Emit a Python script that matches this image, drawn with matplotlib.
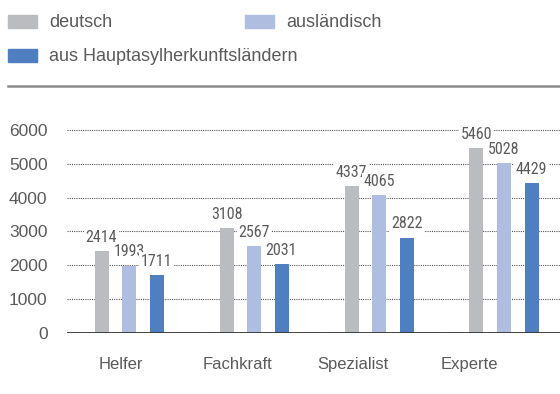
import matplotlib
matplotlib.use("Agg")
import matplotlib.pyplot as plt
from matplotlib.patches import Rectangle
import numpy as np

# Werte je Anforderungsniveau
categories = ["Helfer", "Fachkraft", "Spezialist", "Experte"]
series_names = ["deutsch", "ausländisch", "aus Hauptasylherkunftsländern"]
deutsch = [2414, 3108, 4337, 5460]
auslaendisch = [1993, 2567, 4065, 5028]
asyl = [1711, 2031, 2822, 4429]
yticks = [0, 1000, 2000, 3000, 4000, 5000, 6000]

colors = ["#bbbcc0", "#aebde0", "#4f7fc0"]
text_col = "#5a5a5a"

plt.rcParams["font.family"] = ["Liberation Sans", "DejaVu Sans"]

fig = plt.figure(figsize=(5.6, 3.94), dpi=100)
ax = fig.add_axes([67 / 560, 61 / 394, 493 / 560, (394 - 61 - 123.2) / 394])

x = np.arange(len(categories))
width = 0.112
step = 0.22
for k, (vals, col) in enumerate(zip([deutsch, auslaendisch, asyl], colors)):
    pos = x + (k - 1) * step
    ax.bar(pos, vals, width=width, color=col, zorder=3)
    for px, v in zip(pos, vals):
        ax.annotate(str(v), (px, v), xytext=(0, 4.5), textcoords="offset points",
                    ha="center", va="bottom", fontsize=11.5, color=text_col,
                    family=["Roboto Condensed", "Liberation Sans Narrow", "Roboto"],
                    fontstretch="condensed", zorder=2,
                    bbox=dict(boxstyle="square,pad=0.1", fc="white", ec="none"))

ax.set_xlim(-0.496, 3.448)
ax.set_ylim(0, 6200)
ax.set_yticks(yticks)
ax.yaxis.grid(True, linestyle=(0, (1, 1)), color="#555555", linewidth=0.8, zorder=0)
ax.axhline(0, color="#333333", linewidth=2, zorder=5)

# Beschriftungen der Kategorien sitzen etwas links von den Gruppen
label_pos = x * 0.928 - 0.064
ax.set_xticks(label_pos)
ax.set_xticklabels(categories)
ax.tick_params(axis="x", length=0, pad=17, labelsize=12, labelcolor=text_col)
ax.tick_params(axis="y", length=0, pad=14, labelsize=12.5, labelcolor=text_col)
for s in ax.spines.values():
    s.set_visible(False)

# Legende oben
legend_items = [(8, 15), (245, 15), (8, 49)]
for (lx, ly), name, col in zip(legend_items, series_names, colors):
    fig.patches.append(Rectangle((lx / 560, 1 - (ly + 13) / 394), 29 / 560, 13 / 394,
                                 transform=fig.transFigure, color=col, figure=fig))
    fig.text((lx + 41) / 560, 1 - (ly + 7.5) / 394, name, fontsize=13,
             color=text_col, va="center", ha="left")

fig.add_artist(plt.Line2D([8 / 560, 1], [1 - 86 / 394] * 2, transform=fig.transFigure,
                          color="#8a8a8a", linewidth=1.8))

fig.savefig("out.png", dpi=100)
